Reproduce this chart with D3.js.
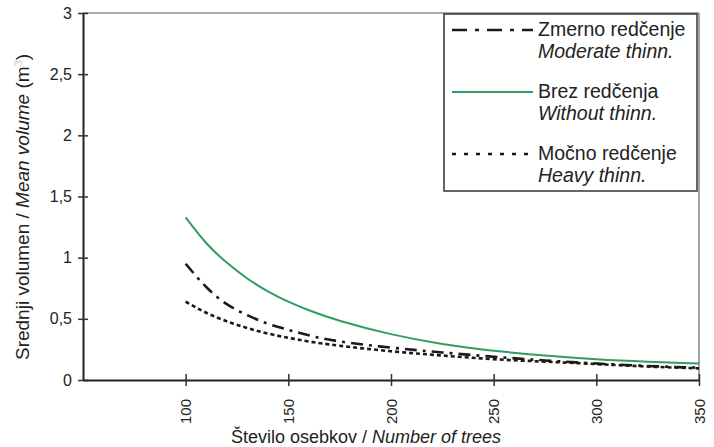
<!DOCTYPE html>
<html lang="en">
<head>
<meta charset="UTF-8">
<title>Srednji volumen</title>
<style>
  body { margin: 0; background: #fff; }
  svg text { font-family: "Liberation Sans", Arial, sans-serif; fill: #222; }
</style>
</head>
<body>
<svg id="chart"></svg>
<script src="https://cdn.jsdelivr.net/npm/d3@7"></script>
<script>
// number of trees (x) and mean volume (m3)
var trees = [100, 110, 120, 130, 140, 150, 160, 175, 200, 225, 250, 275, 300, 325, 350];
var withoutThinn = [1.33, 1.12, 0.96, 0.83, 0.725, 0.64, 0.57, 0.485, 0.375, 0.295, 0.24, 0.20, 0.17, 0.15, 0.135];
var moderateThinn = [0.95, 0.76, 0.62, 0.53, 0.46, 0.41, 0.365, 0.315, 0.265, 0.225, 0.19, 0.16, 0.135, 0.115, 0.10];
var heavyThinn = [0.64, 0.55, 0.48, 0.425, 0.38, 0.345, 0.315, 0.28, 0.235, 0.20, 0.17, 0.15, 0.13, 0.11, 0.095];

var xTicks = [100, 150, 200, 250, 300, 350];
var yTicks = [0, 0.5, 1, 1.5, 2, 2.5, 3];

var legendItems = [
  { sl: "Zmerno redčenje", en: "Moderate thinn.", key: "moderate" },
  { sl: "Brez redčenja", en: "Without thinn.", key: "without" },
  { sl: "Močno redčenje", en: "Heavy thinn.", key: "heavy" }
];

var styles = {
  moderate: { color: "#1a1a1a", width: 2.6, dash: "12,6,3,6" },
  without: { color: "#2f9e62", width: 2, dash: null },
  heavy: { color: "#1a1a1a", width: 2.6, dash: "4,3" }
};

var width = 714, height = 447;
var plotLeft = 83, plotRight = 699, plotTop = 13, plotBottom = 380;

var svg = d3.select("#chart").attr("width", width).attr("height", height);

var x = d3.scaleLinear().domain([50, 350]).range([plotLeft, plotRight]);
var y = d3.scaleLinear().domain([0, 3]).range([plotBottom, plotTop]);

// frame (top and right)
svg.append("line").attr("x1", plotLeft).attr("x2", plotRight).attr("y1", plotTop).attr("y2", plotTop)
  .attr("stroke", "#555").attr("stroke-width", 1.2);
svg.append("line").attr("x1", plotRight).attr("x2", plotRight).attr("y1", plotTop).attr("y2", plotBottom)
  .attr("stroke", "#666").attr("stroke-width", 1.2);

// y axis
var yAxis = svg.append("g").attr("transform", "translate(" + plotLeft + ",0)")
  .call(d3.axisLeft(y).tickValues(yTicks).tickSize(0).tickPadding(11)
    .tickFormat(function(d) { return String(d).replace(".", ","); }));
yAxis.select(".domain").attr("stroke", "#222").attr("stroke-width", 2);
yAxis.selectAll(".tick line").attr("x1", -5).attr("x2", 5).attr("stroke", "#333").attr("stroke-width", 1.5);
yAxis.selectAll(".tick text").style("font-size", "16px").attr("fill", "#333");

// x axis
var xAxis = svg.append("g").attr("transform", "translate(0," + plotBottom + ")")
  .call(d3.axisBottom(x).tickValues(xTicks).tickSize(0));
xAxis.select(".domain").attr("stroke", "#222").attr("stroke-width", 2);
xAxis.selectAll(".tick line").attr("y1", -6).attr("y2", 6).attr("stroke", "#333").attr("stroke-width", 1.5);
xAxis.selectAll(".tick text")
  .style("font-size", "15px").attr("fill", "#333")
  .attr("text-anchor", "end").attr("dy", "0.35em")
  .attr("transform", "translate(0,19) rotate(-90)")
  .attr("x", 0).attr("y", 0);

// curves
var line = d3.line()
  .x(function(d) { return x(d[0]); })
  .y(function(d) { return y(d[1]); })
  .curve(d3.curveNatural);

var series = [
  { key: "without", values: withoutThinn },
  { key: "moderate", values: moderateThinn },
  { key: "heavy", values: heavyThinn }
];

series.forEach(function(s) {
  var st = styles[s.key];
  svg.append("path")
    .datum(trees.map(function(t, i) { return [t, s.values[i]]; }))
    .attr("d", line)
    .attr("fill", "none")
    .attr("stroke", st.color)
    .attr("stroke-width", st.width)
    .attr("stroke-dasharray", st.dash);
});

// legend
var lg = svg.append("g");
lg.append("rect").attr("x", 444).attr("y", 14).attr("width", 253).attr("height", 177)
  .attr("fill", "#fff").attr("stroke", "#333").attr("stroke-width", 1.5);

legendItems.forEach(function(item, i) {
  var yy = 30 + i * 62;
  var st = styles[item.key];
  var legendDash = item.key === "moderate" ? "15,8,4,8" : (item.key === "heavy" ? "4,8" : null);
  lg.append("line").attr("x1", 452).attr("x2", 533).attr("y1", yy).attr("y2", yy)
    .attr("stroke", st.color).attr("stroke-width", st.width).attr("stroke-dasharray", legendDash);
  lg.append("text").attr("x", 538).attr("y", yy + 6).style("font-size", "19.5px").text(item.sl);
  lg.append("text").attr("x", 538).attr("y", yy + 28).style("font-size", "19.5px")
    .style("font-style", "italic").text(item.en);
});

// axis titles
svg.append("text").attr("x", 366).attr("y", 443).attr("text-anchor", "middle")
  .style("font-size", "18px")
  .html('Število osebkov / <tspan font-style="italic">Number of trees</tspan>');

svg.append("text").attr("transform", "translate(29,207) rotate(-90)").attr("text-anchor", "middle")
  .style("font-size", "19px")
  .html('Srednji volumen / <tspan font-style="italic">Mean volume</tspan> (m<tspan dy="-7" font-size="11px" fill="#ccc">3</tspan><tspan dy="7">)</tspan>');
</script>
</body>
</html>
